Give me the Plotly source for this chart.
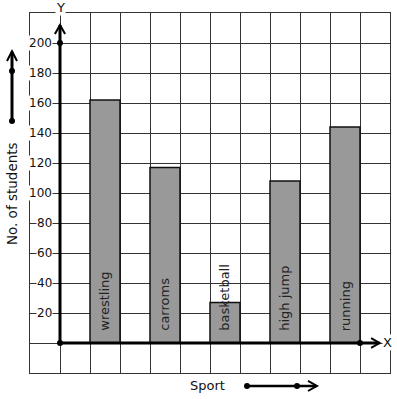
import plotly.graph_objects as go

sports = ["wrestling", "carroms", "basketball", "high jump", "running"]
students = [162, 117, 27, 108, 144]
y_ticks = [20, 40, 60, 80, 100, 120, 140, 160, 180, 200]

FONT = "DejaVu Sans"
xpos = [1.5 + 2 * i for i in range(len(sports))]

fig = go.Figure()
fig.add_trace(go.Bar(
    x=xpos, y=students, width=1,
    marker=dict(color="#999999", line=dict(color="#111111", width=1.5)),
    hoverinfo="skip", showlegend=False,
))

# axis dots
fig.add_trace(go.Scatter(
    x=[0, 0, 10], y=[0, 200, 0], mode="markers",
    marker=dict(color="black", size=6), showlegend=False, hoverinfo="skip",
    cliponaxis=False,
))

shapes = []
line_k = dict(color="black", width=3)
# Y axis with arrow
shapes.append(dict(type="line", xref="x", yref="y", x0=0, y0=0, x1=0, y1=212, line=line_k))
shapes.append(dict(type="path", xref="x", yref="y",
                   path="M -0.17,206 L 0,212 L 0.17,206", line=dict(color="black", width=2)))
# X axis with arrow
shapes.append(dict(type="line", xref="x", yref="y", x0=0, y0=0, x1=10.65, y1=0, line=line_k))
shapes.append(dict(type="path", xref="x", yref="y",
                   path="M 10.37,3.2 L 10.65,0 L 10.37,-3.2", line=dict(color="black", width=2)))

# left decorative arrow
shapes.append(dict(type="line", xref="paper", yref="paper", x0=-0.05, y0=0.7, x1=-0.05, y1=0.892,
                   line=line_k))
shapes.append(dict(type="path", xref="paper", yref="paper",
                   path="M -0.0639,0.8667 L -0.05,0.894 L -0.0361,0.8667",
                   line=dict(color="black", width=2)))
# bottom decorative arrow
shapes.append(dict(type="line", xref="paper", yref="paper", x0=0.6028, y0=-0.0361, x1=0.795, y1=-0.0361,
                   line=dict(color="black", width=2.5)))
shapes.append(dict(type="path", xref="paper", yref="paper",
                   path="M 0.7722,-0.0222 L 0.7972,-0.0361 L 0.7722,-0.05",
                   line=dict(color="black", width=2)))
# dots on decorative arrows
for (px, py) in [(-0.05, 0.7), (-0.05, 0.8389), (0.6028, -0.0361), (0.7417, -0.0361)]:
    shapes.append(dict(type="circle", xref="paper", yref="paper",
                       xsizemode="pixel", ysizemode="pixel", xanchor=px, yanchor=py,
                       x0=-3, x1=3, y0=-3, y1=3,
                       fillcolor="black", line=dict(color="black", width=0)))

annotations = []
for v in y_ticks:
    annotations.append(dict(
        x=-0.22, y=v, xref="x", yref="y", text=str(v), showarrow=False,
        xanchor="right", yanchor="middle", bgcolor="white", borderpad=0,
        font=dict(family=FONT, size=12, color="#111111"),
    ))
for xp, name in zip(xpos, sports):
    annotations.append(dict(
        x=xp, y=6.5, xref="x", yref="y", text=name, showarrow=False, textangle=-90,
        xanchor="center", yanchor="bottom",
        font=dict(family=FONT, size=13, color="#222222"),
    ))
annotations += [
    dict(x=0.0861, y=1.0139, xref="paper", yref="paper", text="Y", showarrow=False,
         xanchor="center", yanchor="middle",
         bgcolor="white", borderpad=0, font=dict(family=FONT, size=13, color="#111111")),
    dict(x=0.9944, y=0.0861, xref="paper", yref="paper", text="X", showarrow=False,
         xanchor="center", yanchor="middle",
         bgcolor="white", borderpad=0, font=dict(family=FONT, size=13, color="#111111")),
    dict(x=0.4944, y=-0.0361, xref="paper", yref="paper", text="Sport", showarrow=False,
         xanchor="center", yanchor="middle",
         font=dict(family=FONT, size=13, color="#111111")),
    dict(x=-0.05, y=0.497, xref="paper", yref="paper", text="No. of students", showarrow=False,
         xanchor="center", yanchor="middle",
         textangle=-90, font=dict(family=FONT, size=13.5, color="#111111")),
]

fig.update_layout(
    width=397, height=399,
    margin=dict(l=30, r=7, t=13, b=26),
    paper_bgcolor="white", plot_bgcolor="white",
    shapes=shapes, annotations=annotations,
    xaxis=dict(range=[-1, 11], tick0=-1, dtick=1, showgrid=True, gridcolor="#333333",
               gridwidth=1, zeroline=False, showticklabels=False, ticks="",
               showline=True, mirror=True, linecolor="#333333", linewidth=1, fixedrange=True),
    yaxis=dict(range=[-20, 220], tick0=-20, dtick=20, showgrid=True, gridcolor="#333333",
               gridwidth=1, zeroline=False, showticklabels=False, ticks="",
               showline=True, mirror=True, linecolor="#333333", linewidth=1, fixedrange=True),
    bargap=0,
)

fig.write_html(
    "out.html",
    config={"displayModeBar": False, "staticPlot": True},
    post_script="document.body.style.margin='0';document.body.style.padding='0';"
                "document.body.style.overflow='hidden';",
)
